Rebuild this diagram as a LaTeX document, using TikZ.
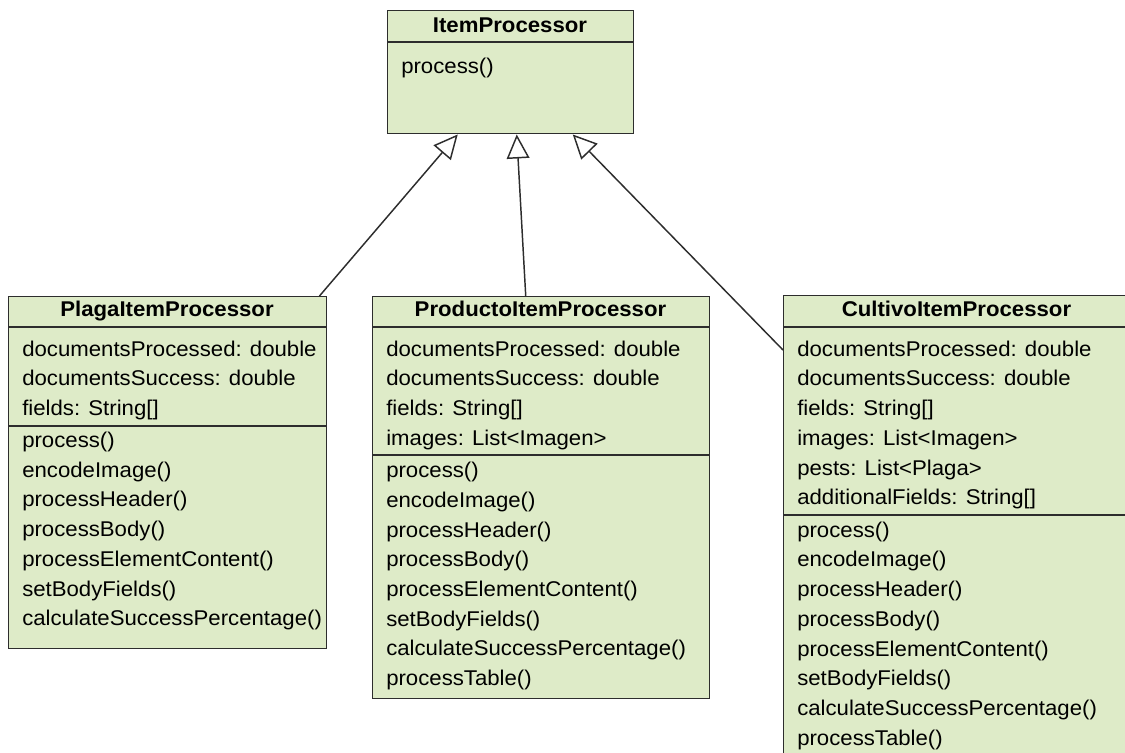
\documentclass[tikz,border=0pt]{standalone}
\usepackage{fontspec}
\setmainfont{Liberation Sans}[FakeStretch=1.04]
\usetikzlibrary{arrows.meta,calc}

\definecolor{verdeclase}{RGB}{222,235,200}
\definecolor{borde}{RGB}{45,45,45}

\begin{document}
\begin{tikzpicture}[x=0.75pt, y=-0.75pt,
    clase/.style={draw=borde, fill=verdeclase, line width=1.1pt, inner sep=0pt, anchor=north west},
    separa/.style={draw=borde, line width=1.1pt},
    titulo/.style={font=\fontsize{16}{22.275}\selectfont\bfseries, anchor=base, inner sep=0pt},
    lista/.style={font=\fontsize{16}{22.275}\selectfont, align=left, anchor=north west, inner sep=0pt},
    hereda/.style={draw=borde, line width=1.1pt, -{Triangle[length=18pt, width=17pt, fill=white]}}]

    % Marco
    \useasboundingbox (0, 0) rectangle (1125, 753);
    \clip (0, 0) rectangle (1125, 753);

    % Clase padre
    \node[clase, minimum width=184.5pt, minimum height=92.25pt] (item) at (387, 10) {};
    \draw[separa] (387, 42) -- (633, 42);
    \node[titulo] (itemTitulo) at (510, 32.3) {ItemProcessor};
    \node[lista, anchor=base west] (itemMet) at (401, 73.3) {process()};

    % PlagaItemProcessor
    \node[clase, minimum width=238.5pt, minimum height=264pt] (plaga) at (8, 296) {};
    \draw[separa] (8, 327) -- (326, 327);
    \draw[separa] (8, 426) -- (326, 426);
    \node[titulo] (plagaTitulo) at (167, 316.7) {PlagaItemProcessor};
    \node[lista] (plagaAtr) at (22, 335.2) {\strut documentsProcessed: double\\
        documentsSuccess: double\\
        fields: String[]};
    \node[lista] (plagaMet) at (22, 426.5) {\strut process()\\
        encodeImage()\\
        processHeader()\\
        processBody()\\
        processElementContent()\\
        setBodyFields()\\
        calculateSuccessPercentage()};

    % ProductoItemProcessor
    \node[clase, minimum width=252.75pt, minimum height=301.5pt] (producto) at (372, 296) {};
    \draw[separa] (372, 327) -- (709, 327);
    \draw[separa] (372, 455) -- (709, 455);
    \node[titulo] (productoTitulo) at (540.5, 316.7) {ProductoItemProcessor};
    \node[lista] (productoAtr) at (386, 335.2) {\strut documentsProcessed: double\\
        documentsSuccess: double\\
        fields: String[]\\
        images: List<Imagen>};
    \node[lista] (productoMet) at (386, 456.7) {\strut process()\\
        encodeImage()\\
        processHeader()\\
        processBody()\\
        processElementContent()\\
        setBodyFields()\\
        calculateSuccessPercentage()\\
        processTable()};

    % CultivoItemProcessor
    \node[clase, minimum width=260.25pt, minimum height=360pt] (cultivo) at (783, 295) {};
    \draw[separa] (783, 327) -- (1130, 327);
    \draw[separa] (783, 515) -- (1130, 515);
    \node[titulo] (cultivoTitulo) at (956.5, 316.7) {CultivoItemProcessor};
    \node[lista] (cultivoAtr) at (797, 335.2) {\strut documentsProcessed: double\\
        documentsSuccess: double\\
        fields: String[]\\
        images: List<Imagen>\\
        pests: List<Plaga>\\
        additionalFields: String[]};
    \node[lista] (cultivoMet) at (797, 516.2) {\strut process()\\
        encodeImage()\\
        processHeader()\\
        processBody()\\
        processElementContent()\\
        setBodyFields()\\
        calculateSuccessPercentage()\\
        processTable()};

    % Herencia
    \draw[hereda] ($(plaga.north east)+(-8, 0)$) -- ($(item.south)+(-53, 0)$);
    \draw[hereda] ($(producto.north)+(-15.5, 0)$) -- ($(item.south)+(6, 0)$);
    \draw[hereda] ($(cultivo.north west)+(0, 55)$) -- ($(item.south)+(62, 0)$);

\end{tikzpicture}
\end{document}
